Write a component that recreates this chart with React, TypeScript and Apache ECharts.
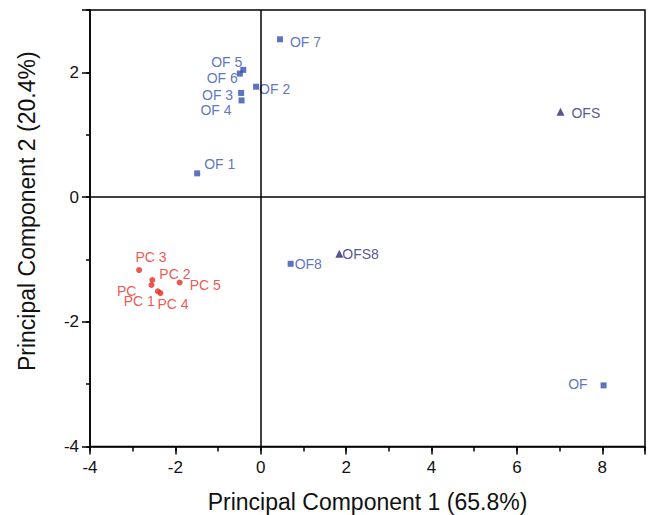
import React, { useEffect, useRef } from "react";
import * as echarts from "echarts";

const ofNames = ["OF 1", "OF 2", "OF 3", "OF 4", "OF 5", "OF 6", "OF 7", "OF8", "OF"];
const ofX = [-1.49, -0.11, -0.46, -0.45, -0.41, -0.49, 0.45, 0.7, 8.03];
const ofY = [0.38, 1.77, 1.67, 1.55, 2.04, 1.98, 2.53, -1.07, -3.02];

const ofsNames = ["OFS", "OFS8"];
const ofsX = [7.02, 1.84];
const ofsY = [1.37, -0.91];

const pcNames = ["PC 1", "PC 2", "PC 3", "PC 4", "PC 5", "PC"];
const pcX = [-2.41, -2.54, -2.85, -2.35, -1.9, -2.56];
const pcY = [-1.51, -1.33, -1.17, -1.54, -1.37, -1.41];

const xTicks = [-4, -2, 0, 2, 4, 6, 8];
const yTicks = [-4, -2, 0, 2];

// label placement (style): [align, dx, dy] relative to marker centre
const labelPlace: Record<string, [string, number, number]> = {
  "OF 1": ["left", 7, -9],
  "OF 2": ["left", 3, 2.5],
  "OF 3": ["right", -8, 1.7],
  "OF 4": ["right", -10, 10],
  "OF 5": ["right", -1, -7.6],
  "OF 6": ["right", -2, 4],
  "OF 7": ["left", 10, 2.5],
  OF8: ["left", 4, 0.7],
  OF: ["right", -16, -1],
  OFS: ["left", 11, 1],
  OFS8: ["left", 3, 0],
  "PC 1": ["right", -3, 9.3],
  "PC 2": ["left", 7, -6],
  "PC 3": ["center", 12, -12.6],
  "PC 4": ["left", -3, 11],
  "PC 5": ["left", 10, 2.6],
  PC: ["right", -15, 6],
};

const FONT = "'Liberation Sans', Arial, sans-serif";
const OF_COLOR = "#3350b2";
const OFS_COLOR = "#2a2878";
const PC_COLOR = "#e82c22";

function makeData(names: string[], xs: number[], ys: number[], color: string) {
  return names.map((n, i) => {
    const [align, dx, dy] = labelPlace[n];
    return {
      name: n,
      value: [xs[i], ys[i]],
      label: {
        show: true,
        position: "inside",
        align,
        verticalAlign: "middle",
        offset: [dx, dy],
        formatter: "{b}",
        color,
        fontSize: 14,
        fontFamily: FONT,
      },
    };
  });
}

export default function App() {
  const ref = useRef<HTMLDivElement>(null);
  useEffect(() => {
    if (!ref.current) return;
    const chart = echarts.init(ref.current, null, { renderer: "svg" });
    const axisLineStyle = { color: "#000", width: 1.5 };
    const hideOdd = (allowed: number[]) => (v: number) =>
      allowed.indexOf(Math.round(v)) >= 0 && Math.abs(v - Math.round(v)) < 1e-6 ? String(Math.round(v)) : "";
    chart.setOption({
      animation: false,
      backgroundColor: "#fff",
      textStyle: { fontFamily: FONT },
      grid: {
        left: 90,
        right: 3,
        top: 10,
        bottom: 68.5,
        show: true,
        borderColor: "#000",
        borderWidth: 1.5,
        outerBoundsMode: "none",
      },
      xAxis: [
        {
          type: "value",
          min: -4,
          max: 9,
          interval: 1,
          position: "bottom",
          axisLine: { show: true, onZero: false, lineStyle: axisLineStyle },
          axisTick: { show: true, length: 5, lineStyle: axisLineStyle },
          axisLabel: { show: false },
          splitLine: { show: false },
          name: "Principal Component 1 (65.8%)",
          nameLocation: "middle",
          nameGap: 44,
          nameTextStyle: { fontSize: 23, color: "#111", fontFamily: FONT },
        },
        {
          type: "value",
          min: -4,
          max: 9,
          interval: 2,
          position: "bottom",
          axisLine: { show: false, onZero: false },
          axisTick: { show: true, length: 8, lineStyle: axisLineStyle },
          axisLabel: {
            show: true,
            fontSize: 17,
            color: "#111",
            margin: 12,
            fontFamily: FONT,
            formatter: hideOdd(xTicks),
          },
          splitLine: { show: false },
        },
      ],
      yAxis: [
        {
          type: "value",
          min: -4,
          max: 3,
          interval: 1,
          position: "left",
          axisLine: { show: true, onZero: false, lineStyle: axisLineStyle },
          axisTick: { show: true, length: 4, lineStyle: axisLineStyle },
          axisLabel: { show: false },
          splitLine: { show: false },
          name: "Principal Component 2 (20.4%)",
          nameLocation: "middle",
          nameGap: 52,
          nameTextStyle: {
            fontSize: 23,
            color: "#111",
            fontFamily: FONT,
            padding: [0, 0, 0, 34],
          },
        },
        {
          type: "value",
          min: -4,
          max: 3,
          interval: 2,
          position: "left",
          axisLine: { show: false, onZero: false },
          axisTick: { show: true, length: 8, lineStyle: axisLineStyle },
          axisLabel: {
            show: true,
            fontSize: 17,
            color: "#111",
            margin: 11,
            fontFamily: FONT,
            formatter: hideOdd(yTicks),
          },
          splitLine: { show: false },
        },
      ],
      series: [
        {
          type: "scatter",
          name: "OF",
          xAxisIndex: 0,
          yAxisIndex: 0,
          symbol: "rect",
          symbolSize: 6,
          itemStyle: { color: OF_COLOR },
          data: makeData(ofNames, ofX, ofY, OF_COLOR),
          markLine: {
            silent: true,
            symbol: "none",
            label: { show: false },
            lineStyle: { color: "#000", type: "solid", width: 1.5 },
            data: [{ xAxis: 0 }, { yAxis: 0 }],
          },
          z: 3,
        },
        {
          type: "scatter",
          name: "OFS",
          xAxisIndex: 0,
          yAxisIndex: 0,
          symbol: "triangle",
          symbolSize: 8,
          itemStyle: { color: OFS_COLOR },
          data: makeData(ofsNames, ofsX, ofsY, OFS_COLOR),
          z: 3,
        },
        {
          type: "scatter",
          name: "PC",
          xAxisIndex: 0,
          yAxisIndex: 0,
          symbol: "circle",
          symbolSize: 6,
          itemStyle: { color: PC_COLOR },
          data: makeData(pcNames, pcX, pcY, PC_COLOR),
          z: 3,
        },
      ],
    });
    return () => chart.dispose();
  }, []);
  return (
    <div
      ref={ref}
      style={{ position: "fixed", left: 0, top: 0, width: 648, height: 515 }}
    />
  );
}
